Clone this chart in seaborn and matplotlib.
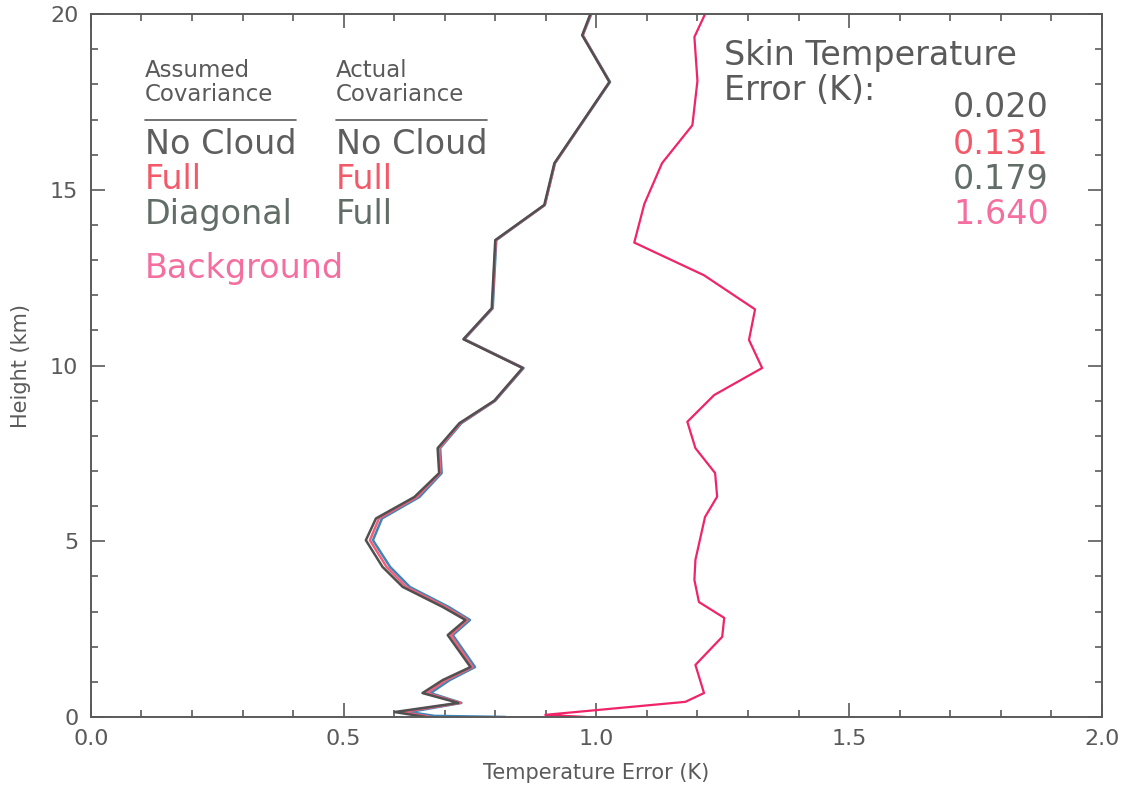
import matplotlib
matplotlib.use("Agg")
import matplotlib.pyplot as plt
from matplotlib.ticker import MultipleLocator, FormatStrFormatter
import pandas as pd
import seaborn as sns

# Retrieval error profiles (K) versus height (km)
heights = [0.00, 0.14, 0.40, 0.68, 1.05, 1.42, 2.33, 2.76, 3.13, 3.70, 4.27,
           5.03, 5.65, 6.26, 6.94, 7.65, 8.36, 9.00, 9.93, 10.75, 11.63,
           13.57, 14.57, 15.76, 18.07, 19.40, 20.00]
no_cloud = [0.662, 0.601, 0.727, 0.656, 0.696, 0.751, 0.706, 0.741, 0.696,
            0.617, 0.577, 0.544, 0.564, 0.640, 0.689, 0.686, 0.729, 0.798,
            0.854, 0.737, 0.793, 0.800, 0.897, 0.917, 1.026, 0.972, 0.988]
full_full = [0.672, 0.615, 0.731, 0.664, 0.703, 0.755, 0.712, 0.745, 0.702,
             0.624, 0.585, 0.552, 0.570, 0.645, 0.691, 0.689, 0.731, 0.799,
             0.855, 0.738, 0.794, 0.801, 0.898, 0.918, 1.026, 0.973, 0.989]

heights_diag = [0.00, 0.03, 0.14, 0.40, 0.68, 1.05, 1.42, 2.33, 2.76, 3.13,
                3.70, 4.27, 5.03, 5.65, 6.26, 6.94, 7.65, 8.36, 9.00, 9.93,
                10.75, 11.63, 13.57, 14.57, 15.76, 18.07, 19.40, 20.00]
diag_full = [0.820, 0.680, 0.630, 0.733, 0.672, 0.710, 0.760, 0.716, 0.750,
             0.708, 0.631, 0.592, 0.558, 0.576, 0.650, 0.694, 0.691, 0.733,
             0.800, 0.856, 0.739, 0.795, 0.802, 0.898, 0.918, 1.027, 0.973,
             0.990]

heights_bg = [0.00, 0.06, 0.43, 0.68, 1.48, 2.28, 2.82, 3.27, 3.90, 4.47,
              5.69, 6.27, 6.94, 7.65, 8.40, 9.16, 9.93, 10.73, 11.60, 12.57,
              13.50, 14.60, 15.76, 16.84, 18.10, 19.35, 20.00]
background = [0.978, 0.899, 1.176, 1.213, 1.196, 1.249, 1.253, 1.203, 1.194,
              1.196, 1.215, 1.239, 1.235, 1.196, 1.180, 1.233, 1.328, 1.302,
              1.314, 1.213, 1.075, 1.095, 1.130, 1.190, 1.200, 1.194, 1.215]

# Skin temperature errors (K) for each case
skin_errors = ["0.020", "0.131", "0.179", "1.640"]

assumed_labels = ["No Cloud", "Full", "Diagonal"]
actual_labels = ["No Cloud", "Full", "Full"]

c_black = "#505050"
c_red = "#f0607a"
c_blue = "#3f86b8"
c_bg = "#f02468"
c_axis = "#5a5a5a"
text_cols = ["#5e5e5e", "#f25a6a", "#626d68", "#f46ea0"]

sns.set_theme(style="ticks")
plt.rcParams["font.family"] = ["DejaVu Sans"]

fig = plt.figure(figsize=(11.22, 7.87), dpi=100)
ax = fig.add_axes([0.081, 0.089, 0.901, 0.893])

frames = [
    pd.DataFrame({"err": background, "z": heights_bg}),
    pd.DataFrame({"err": diag_full, "z": heights_diag}),
    pd.DataFrame({"err": full_full, "z": heights}),
    pd.DataFrame({"err": no_cloud, "z": heights}),
]
for df, col, lw in zip(frames, [c_bg, c_blue, c_red, c_black],
                       [1.6, 1.8, 1.8, 1.8]):
    sns.lineplot(data=df, x="err", y="z", sort=False, estimator=None,
                 color=col, linewidth=lw, ax=ax)

ax.set_xlim(0.0, 2.0)
ax.set_ylim(0, 20)
ax.xaxis.set_major_locator(MultipleLocator(0.5))
ax.xaxis.set_minor_locator(MultipleLocator(0.1))
ax.yaxis.set_major_locator(MultipleLocator(5))
ax.yaxis.set_minor_locator(MultipleLocator(1))
ax.xaxis.set_major_formatter(FormatStrFormatter("%.1f"))
ax.yaxis.set_major_formatter(FormatStrFormatter("%d"))

for s in ax.spines.values():
    s.set_visible(True)
    s.set_color(c_axis)
    s.set_linewidth(1.4)
ax.tick_params(which="both", direction="in", top=True, right=True,
               colors=c_axis, labelcolor=c_axis, width=1.2)
ax.tick_params(which="major", length=10, labelsize=16, pad=9)
ax.tick_params(which="minor", length=5)

ax.set_xlabel("Temperature Error (K)", fontsize=15, color=c_axis,
              labelpad=10)
ax.set_ylabel("Height (km)", fontsize=15, color=c_axis, labelpad=14)

# Legend block written as text
for x0, top, bottom in [(0.107, "Assumed", "Covariance"),
                        (0.484, "Actual", "Covariance")]:
    ax.text(x0, 18.41, top, fontsize=16.5, color=c_axis, va="center",
            ha="left")
    ax.text(x0, 17.70, bottom, fontsize=16.5, color=c_axis, va="center",
            ha="left")
ax.plot([0.107, 0.405], [17.0, 17.0], color=c_axis, lw=1.2)
ax.plot([0.484, 0.783], [17.0, 17.0], color=c_axis, lw=1.2)

rows_y = [16.3, 15.3, 14.3]
for y, a, b, col in zip(rows_y, assumed_labels, actual_labels, text_cols):
    ax.text(0.107, y, a, fontsize=24, color=col, va="center", ha="left")
    ax.text(0.484, y, b, fontsize=24, color=col, va="center", ha="left")
ax.text(0.107, 12.75, "Background", fontsize=24, color=text_cols[3],
        va="center", ha="left")

ax.text(1.253, 18.83, "Skin Temperature", fontsize=24, color=c_axis,
        va="center", ha="left")
ax.text(1.253, 17.84, "Error (K):", fontsize=24, color=c_axis,
        va="center", ha="left")
for y, val, col in zip([17.35, 16.3, 15.3, 14.3], skin_errors, text_cols):
    ax.text(1.895, y, val, fontsize=24, color=col, va="center", ha="right")

fig.savefig("out.png", dpi=100, facecolor="white")
